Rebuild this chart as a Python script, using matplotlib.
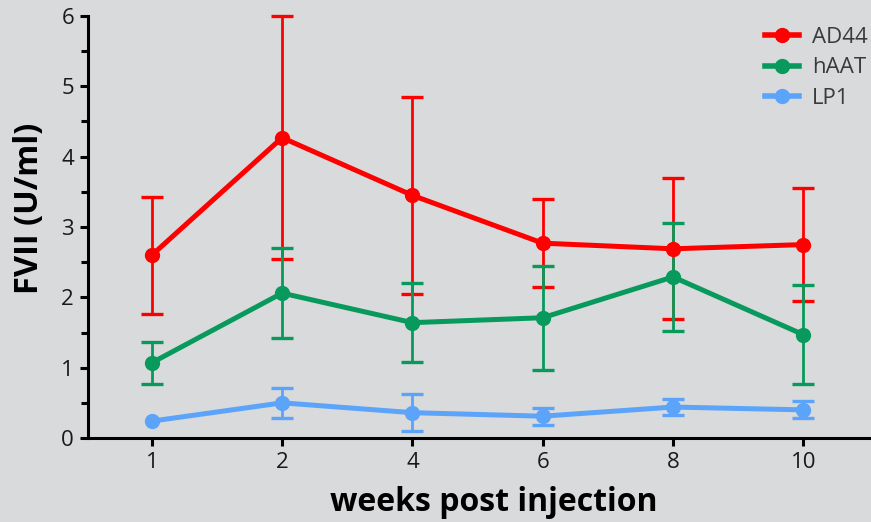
import numpy as np
import matplotlib
matplotlib.use('Agg')
import matplotlib.pyplot as plt
from matplotlib.ticker import MultipleLocator
from matplotlib.lines import Line2D

plt.rcParams['font.family'] = ['Open Sans', 'DejaVu Sans']

weeks = ['1', '2', '4', '6', '8', '10']

ad44 = [2.60, 4.27, 3.45, 2.77, 2.69, 2.75]
ad44_err = [0.83, 1.73, 1.40, 0.63, 1.00, 0.80]

haat = [1.07, 2.06, 1.64, 1.71, 2.29, 1.47]
haat_err = [0.30, 0.64, 0.56, 0.74, 0.77, 0.70]

lp1 = [0.24, 0.50, 0.36, 0.31, 0.44, 0.40]
lp1_err = [np.nan, 0.21, 0.26, 0.12, 0.12, 0.12]  # no bar visible at week 1

series = [
    ('AD44', ad44, ad44_err, '#ff0000'),
    ('hAAT', haat, haat_err, '#079a5c'),
    ('LP1', lp1, lp1_err, '#5ba4fa'),
]

bg = '#d9dadc'
fig = plt.figure(figsize=(8.71, 5.22), dpi=100, facecolor=bg)
ax = fig.add_axes([88/871, 84/522, 1 - 88/871, (438-16)/522])
ax.set_facecolor(bg)

x = np.arange(len(weeks))
handles = []
for name, y, err, col in series:
    ax.errorbar(x, y, yerr=err, color=col, lw=3.6, marker='o', ms=10,
                elinewidth=2, capsize=8, capthick=2.4,
                clip_on=False, zorder=3)
    handles.append(Line2D([], [], color=col, lw=4, marker='o', ms=10, label=name))

ax.set_xlim(-0.49, 5.52)
ax.set_ylim(0, 6)
ax.set_xticks(x)
ax.set_xticklabels(weeks)
ax.yaxis.set_major_locator(MultipleLocator(1))
ax.yaxis.set_minor_locator(MultipleLocator(0.5))

for s in ['top', 'right']:
    ax.spines[s].set_visible(False)
for s in ['left', 'bottom']:
    ax.spines[s].set_linewidth(2.2)
    ax.spines[s].set_color('black')

ax.tick_params(axis='both', which='major', length=6, width=2.2,
               labelsize=16, labelcolor='#1a1a1a', pad=4)
ax.tick_params(axis='y', which='minor', length=5, width=2.2)

ax.set_ylabel('FVII (U/ml)', fontsize=23.5, fontweight='bold')
ax.set_xlabel('weeks post injection', fontsize=23, fontweight='bold')
ax.yaxis.set_label_coords(-0.054, 0.545)
ax.xaxis.set_label_coords(0.518, -0.114)

leg = ax.legend(handles=handles, loc='upper right', bbox_to_anchor=(1.01, 1.0),
                frameon=False, fontsize=16, handlelength=1.5, labelspacing=0.42,
                handletextpad=0.6, borderaxespad=0.1)
for t in leg.get_texts():
    t.set_color('#3a3a3a')

fig.savefig('out.png', dpi=100, facecolor=bg)
